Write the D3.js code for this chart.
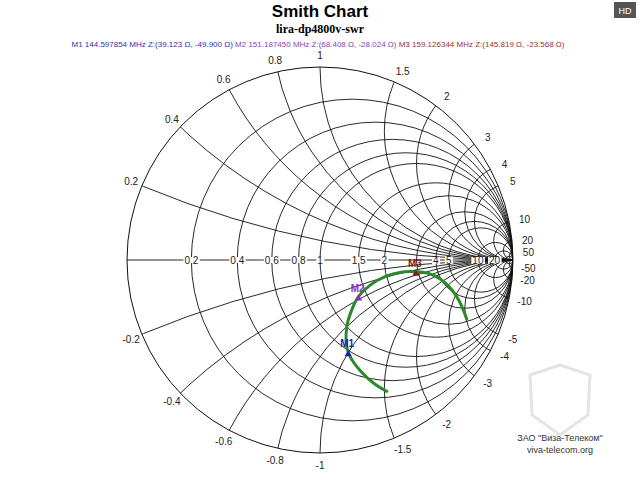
<!DOCTYPE html>
<html><head><meta charset="utf-8">
<script src="https://cdn.jsdelivr.net/npm/d3@7"></script>
<style>
  body { margin: 0; background: #fff; }
  svg { font-family: Arial, "Liberation Sans", sans-serif; }
</style></head>
<body>
<svg id="chart" width="640" height="480"></svg>
<script>
    // grid values
    const resistances = [0.2, 0.4, 0.6, 0.8, 1, 1.5, 2, 3, 4, 5, 10, 20, 50];
    const reactances = [0.2, 0.4, 0.6, 0.8, 1, 1.5, 2, 3, 4, 5, 10, 20, 50];
    // axis labels visible on the real axis (3 and 50 are covered in the picture)
    const rLabelValues = [0.2, 0.4, 0.6, 0.8, 1, 1.5, 2, 4, 5, 10, 20];
    const xLabelsShown = [0.2, 0.4, 0.6, 0.8, 1, 1.5, 2, 3, 4, 5, 10, 20, 50, -0.2, -0.4, -0.6, -0.8, -1, -1.5, -2, -3, -4, -5, -10, -20, -50];

    const traceRe = [0.352, 0.280, 0.210, 0.166, 0.146, 0.135, 0.140, 0.160, 0.200, 0.260, 0.340, 0.420, 0.497, 0.570, 0.625, 0.680, 0.720, 0.745, 0.762];
    const traceIm = [-0.684, -0.640, -0.575, -0.518, -0.478, -0.420, -0.340, -0.270, -0.189, -0.130, -0.085, -0.063, -0.061, -0.072, -0.100, -0.150, -0.210, -0.265, -0.311];

    const markerNames = ["M1", "M2", "M3"];
    const markerFreq = ["144.597854", "151.187450", "159.126344"];
    const markerR = [39.123, 68.408, 145.819];
    const markerX = [-49.900, -28.024, -23.568];
    const markerColors = ["#1c1cb0", "#8a30c8", "#8a1a1a"];
    const legendColors = ["#3030c0", "#9040c0", "#a03030"];
    const z0 = 50;

    const svg = d3.select("#chart");
    const cx = 320, cy = 260, R = 193;
    const sx = d3.scaleLinear().domain([-1, 1]).range([cx - R, cx + R]);
    const sy = d3.scaleLinear().domain([-1, 1]).range([cy + R, cy - R]);

    svg.append("text").attr("x", 320).attr("y", 17).attr("text-anchor", "middle")
        .attr("font-size", 17).attr("font-weight", "bold").text("Smith Chart");
    svg.append("text").attr("x", 320).attr("y", 33).attr("text-anchor", "middle")
        .attr("font-family", "Liberation Serif, serif").attr("font-weight", "bold")
        .attr("font-size", 12).text("lira-dp4800v-swr");

    let legend = svg.append("text").attr("x", 318).attr("y", 47).attr("text-anchor", "middle").attr("font-size", 8);
    markerNames.forEach((m, i) => {
        legend.append("tspan").attr("fill", legendColors[i])
            .text(`${m}   ${markerFreq[i]} MHz  Z:(${markerR[i].toFixed(3)} Ω, ${markerX[i].toFixed(3)} Ω)${i < 2 ? " " : ""}`);
    });

    svg.append("rect").attr("x", 614).attr("y", 2).attr("width", 22).attr("height", 16).attr("fill", "#555");
    svg.append("text").attr("x", 625).attr("y", 14).attr("text-anchor", "middle").attr("fill", "#fff")
        .attr("font-size", 9).text("HD");

    svg.append("clipPath").attr("id", "unit").append("circle")
        .attr("cx", cx).attr("cy", cy).attr("r", R);

    const grid = svg.append("g").attr("clip-path", "url(#unit)")
        .attr("fill", "none").attr("stroke", "#111").attr("stroke-width", 0.9);

    resistances.forEach(r => {
        grid.append("circle")
            .attr("cx", sx(r / (1 + r))).attr("cy", sy(0))
            .attr("r", sx(1 / (1 + r)) - sx(0));
    });
    reactances.forEach(x => {
        [x, -x].forEach(v => {
            grid.append("circle")
                .attr("cx", sx(1)).attr("cy", sy(1 / v))
                .attr("r", Math.abs(sy(1 / v) - sy(0)));
        });
    });
    grid.append("line").attr("x1", sx(-1)).attr("x2", sx(1)).attr("y1", sy(0)).attr("y2", sy(0));
    svg.append("circle").attr("cx", cx).attr("cy", cy).attr("r", R)
        .attr("fill", "none").attr("stroke", "#111").attr("stroke-width", 1);

    // real axis labels
    rLabelValues.forEach(r => {
        const px = sx((r - 1) / (r + 1));
        const t = svg.append("text").attr("x", px).attr("y", cy + 4).attr("text-anchor", "middle")
            .attr("font-size", 10).attr("fill", "#222").text(String(r));
        const bb = t.node().getBBox();
        svg.insert("rect", () => t.node()).attr("x", bb.x - 1).attr("y", bb.y + 2)
            .attr("width", bb.width + 2).attr("height", bb.height - 4).attr("fill", "#fff");
    });

    // reactance labels on rim
    xLabelsShown.forEach(x => {
        const d = x * x + 1;
        const gr = (x * x - 1) / d, gi = 2 * x / d;
        const ang = Math.atan2(gi, gr);
        const off = 1.06;
        svg.append("text")
            .attr("x", sx(Math.cos(ang) * off) + (Math.cos(ang) > 0.3 ? 4 : 0))
            .attr("y", sy(Math.sin(ang) * off) + 4)
            .attr("text-anchor", "middle").attr("font-size", 10).attr("fill", "#222")
            .text(String(x));
    });

    // trace
    const pts = traceRe.map((v, i) => [v, traceIm[i]]);
    svg.append("path").datum(pts)
        .attr("d", d3.line().x(d => sx(d[0])).y(d => sy(d[1])).curve(d3.curveCatmullRom))
        .attr("fill", "none").attr("stroke", "#2a8a2a").attr("stroke-width", 3);

    // markers
    markerNames.forEach((m, i) => {
        const zr = markerR[i] / z0, zx = markerX[i] / z0;
        const den = (zr + 1) * (zr + 1) + zx * zx;
        const gr = (zr * zr - 1 + zx * zx) / den, gi = 2 * zx / den;
        const px = sx(gr), py = sy(gi);
        svg.append("path").attr("d", d3.symbol(d3.symbolTriangle, 22)())
            .attr("transform", `translate(${px},${py + 2})`).attr("fill", markerColors[i]);
        svg.append("text").attr("x", px - 1).attr("y", py - 5).attr("text-anchor", "middle")
            .attr("font-size", 10).attr("font-weight", "bold").attr("fill", markerColors[i]).text(m);
    });

    // watermark
    svg.append("path").attr("d", "M530,375 L560,365 L590,375 L588,415 L560,435 L532,415 Z")
        .attr("fill", "none").attr("stroke", "#e4e4e4").attr("stroke-width", 3);
    svg.append("text").attr("x", 560).attr("y", 441).attr("text-anchor", "middle")
        .attr("font-size", 9).attr("fill", "#333").text("ЗАО \"Виза-Телеком\"");
    svg.append("text").attr("x", 560).attr("y", 453).attr("text-anchor", "middle")
        .attr("font-size", 9).attr("fill", "#333").text("viva-telecom.org");
</script>
</body></html>
